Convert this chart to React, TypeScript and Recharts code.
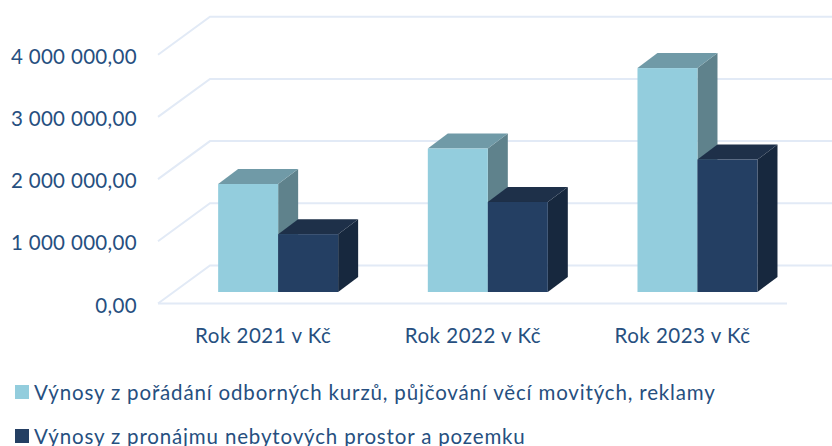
import { BarChart, Bar, XAxis, YAxis, Legend, CartesianGrid } from "recharts";

const years = ["Rok 2021 v Kč", "Rok 2022 v Kč", "Rok 2023 v Kč"];
const courses = [1736000, 2307000, 3600000];
const rentals = [930000, 1447000, 2130000];
const yTicks = [0, 1000000, 2000000, 3000000, 4000000];
const courseName = "Výnosy z pořádání odborných kurzů, půjčování věcí movitých, reklamy";
const rentalName = "Výnosy z pronájmu nebytových prostor a pozemku";

const data = years.map((year, i) => ({ year, courses: courses[i], rentals: rentals[i] }));

const FONT = "Lato, sans-serif";
const TEXT = "#264f80";
const GRID = "#e2eaf6";
const DX = 20;
const DY = 15;

const formatMoney = (v: number) =>
  v === 0 ? "0,00" : String(v).replace(/\B(?=(\d{3})+$)/g, " ") + ",00";

// 3D block: front face from the library, top and side are offset from it
function Block(props: any) {
  const { x, y, width, height, fill, topFill, sideFill } = props;
  const r = x + width;
  const b = y + height;
  return (
    <g>
      <polygon points={`${r},${y} ${r + DX},${y - DY} ${r + DX},${b - DY} ${r},${b}`} fill={sideFill} />
      <polygon points={`${x},${y} ${x + DX},${y - DY} ${r + DX},${y - DY} ${r},${y}`} fill={topFill} />
      <rect x={x} y={y} width={width} height={height} fill={fill} />
    </g>
  );
}

// back wall and side wall lines for one grid value; the zero line also gets the front edge
function GridLine(props: any) {
  const { y1, index } = props;
  const front = y1 + 11.5;
  const back = y1 - 26.5;
  const isZero = y1 > 280 || index === undefined;
  return (
    <g>
      <polyline points={`158,${front} 210,${back} 832,${back}`} fill="none" stroke={GRID} strokeWidth={2} />
      {isZero && <line x1={158} y1={front} x2={787} y2={front} stroke={GRID} strokeWidth={2} />}
    </g>
  );
}

function YTick(props: any) {
  const { y, payload } = props;
  return (
    <text x={137} y={y + 20.5} textAnchor="end" fill={TEXT} fontFamily={FONT} fontSize={20.5} letterSpacing={0.33}>
      {formatMoney(payload.value)}
    </text>
  );
}

function XTick(props: any) {
  const { x, y, payload } = props;
  return (
    <text x={x - 14.5} y={y + 43} textAnchor="middle" fill={TEXT} fontFamily={FONT} fontSize={20.5} letterSpacing={0.5}>
      {payload.value}
    </text>
  );
}

function LegendBox(props: any) {
  return (
    <div style={{ height: 104, position: "relative", fontFamily: FONT, fontSize: 20.5, letterSpacing: 0.84, color: TEXT }}>
      {(props.payload || []).map((item: any, i: number) => (
        <div
          key={item.value}
          style={{ position: "absolute", left: 15, top: 36 + i * 44, display: "flex", alignItems: "center", whiteSpace: "nowrap", height: 28 }}
        >
          <span style={{ width: 14, height: 14, background: item.color, marginRight: 5, display: "inline-block" }} />
          {item.value}
        </div>
      ))}
    </div>
  );
}

export default function App() {
  return (
    <div style={{ position: "absolute", left: 0, top: 0, width: 832, height: 446, overflow: "hidden", background: "#fff" }}>
      <BarChart
        width={832}
        height={446}
        data={data}
        margin={{ top: 43.2, right: 30.1, bottom: 0, left: 0 }}
        barCategoryGap={45.25}
        barGap={0}
      >
        <CartesianGrid vertical={false} horizontal={<GridLine />} />
        <XAxis dataKey="year" height={50} axisLine={false} tickLine={false} tick={<XTick />} interval={0} />
        <YAxis
          width={172.9}
          domain={[0, 4000000]}
          ticks={yTicks}
          axisLine={false}
          tickLine={false}
          tick={<YTick />}
          interval={0}
        />
        <Legend
          verticalAlign="bottom"
          align="left"
          wrapperStyle={{ left: 0, width: 832, height: 104 }}
          content={<LegendBox />}
        />
        <Bar
          dataKey="courses"
          name={courseName}
          fill="#93cddd"
          isAnimationActive={false}
          shape={<Block topFill="#709aa7" sideFill="#5f828c" />}
        />
        <Bar
          dataKey="rentals"
          name={rentalName}
          fill="#243f63"
          isAnimationActive={false}
          shape={<Block topFill="#1e3049" sideFill="#17283e" />}
        />
      </BarChart>
    </div>
  );
}
